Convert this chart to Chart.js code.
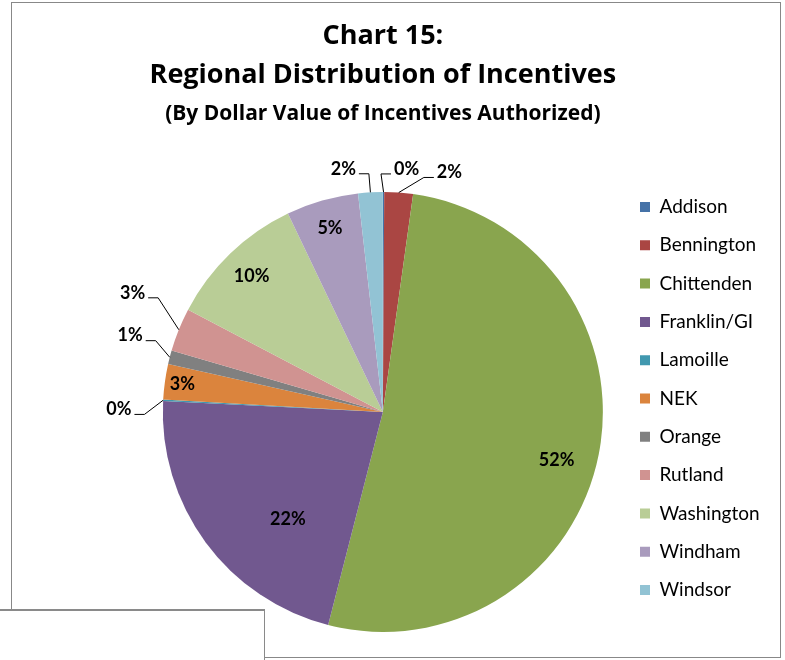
<!DOCTYPE html>
<html>
<head>
<meta charset="utf-8">
<script src="https://cdn.jsdelivr.net/npm/chart.js@4.4.0/dist/chart.umd.min.js"></script>
<style>
  html, body { margin: 0; padding: 0; background: #fff; }
  body { width: 785px; height: 660px; position: relative; overflow: hidden; }
  .frame { position: absolute; left: 11px; top: 2px; width: 770px; height: 656px; box-sizing: border-box; border: 1px solid #888; }
  #chart { position: absolute; left: 12px; top: 3px; }
  .cover { position: absolute; left: 0; top: 609px; width: 265px; height: 51px; box-sizing: border-box;
           background: #fff; border-top: 2px solid #8a8a8a; border-right: 1px solid #8a8a8a; }
</style>
</head>
<body>
<div class="frame"></div>
<canvas id="chart" width="767" height="653"></canvas>
<div class="cover"></div>
<script>
// data (share of dollar value, %)
const regions = ['Addison', 'Bennington', 'Chittenden', 'Franklin/GI', 'Lamoille', 'NEK',
                 'Orange', 'Rutland', 'Washington', 'Windham', 'Windsor'];
const shares = [0.1, 2.1, 51.8, 21.8, 0.1, 2.6, 1.0, 3.2, 10.2, 5.3, 1.8];
const sliceColors = ['#4572A7', '#AA4643', '#89A54E', '#71588F', '#4198AF', '#DB843D',
                     '#808080', '#D09391', '#B9CD96', '#A99BBD', '#92C3D4'];

// where each percentage sits: distance in radii, turn in degrees off the slice middle
const labelSpots = [
    { dist: 1.11, turn: 5.4 },
    { dist: 1.13, turn: 11.4 },
    { dist: 0.82, turn: 4.5 },
    { dist: 0.65, turn: -12 },
    { dist: 1.2, turn: -2.5 },
    { dist: 0.92, turn: 0 },
    { dist: 1.2, turn: 2.4 },
    { dist: 1.26, turn: 3.5 },
    { dist: 0.86, turn: 0 },
    { dist: 0.87, turn: 0 },
    { dist: 1.12, turn: -6 }
];

// percentage labels, with leader lines for the ones outside the pie //
const sliceLabels = {
    id: 'sliceLabels',
    afterDatasetsDraw(chart) {
        const ctx = chart.ctx;
        const meta = chart.getDatasetMeta(0);
        const total = shares.reduce((a, b) => a + b, 0);
        ctx.save();
        ctx.font = 'bold 18px Lato';
        ctx.fillStyle = '#000';
        ctx.strokeStyle = '#000';
        ctx.lineWidth = 1;
        ctx.textAlign = 'center';
        ctx.textBaseline = 'middle';
        meta.data.forEach((arc, i) => {
            const spot = labelSpots[i];
            const mid = (arc.startAngle + arc.endAngle) / 2;
            const a = mid + spot.turn * Math.PI / 180;
            const r = arc.outerRadius;
            const tx = arc.x + Math.cos(a) * r * spot.dist;
            const ty = arc.y + Math.sin(a) * r * spot.dist;
            const text = Math.round(shares[i] / total * 100) + '%';
            if (spot.dist > 1) {
                const w = ctx.measureText(text).width;
                const side = Math.cos(a) < 0 ? 1 : -1;
                const x1 = tx + side * (w / 2 + 3);
                const x2 = x1 + side * 10;
                const ly = ty + 5;
                ctx.beginPath();
                ctx.moveTo(x1, ly);
                ctx.lineTo(x2, ly);
                ctx.lineTo(arc.x + Math.cos(mid) * r, arc.y + Math.sin(mid) * r);
                ctx.stroke();
            }
            ctx.fillText(text, tx, ty);
        });
        ctx.restore();
    }
};

const chart = document.querySelector('#chart').getContext('2d');

new Chart(chart, {
    type: 'pie',
    data: {
        labels: regions,
        datasets: [
            {
                data: shares,
                backgroundColor: sliceColors,
                borderWidth: 0
            }
        ]
    },
    options: {
        responsive: false,
        animation: false,
        events: [],
        layout: {
            padding: { left: 133, right: 16.3, top: 0, bottom: 24 }
        },
        plugins: {
            title: {
                display: true,
                fullSize: false,
                text: ['Chart 15:', 'Regional Distribution of Incentives'],
                color: '#000',
                font: { family: 'Open Sans', size: 27, weight: 'bold', lineHeight: 1.444 },
                padding: { top: 14, bottom: 2 }
            },
            subtitle: {
                display: true,
                fullSize: false,
                text: '(By Dollar Value of Incentives Authorized)',
                color: '#000',
                font: { family: 'Open Sans', size: 21, weight: 'bold', lineHeight: 1.143 },
                padding: { top: 5, bottom: 66 }
            },
            legend: {
                position: 'right',
                align: 'start',
                maxWidth: 142,
                title: {
                    display: true,
                    text: '',
                    font: { size: 12 },
                    padding: { top: 160.8, bottom: 0 }
                },
                labels: {
                    boxWidth: 10,
                    boxHeight: 10,
                    padding: 19.3,
                    color: '#000',
                    font: { family: 'Lato', size: 19 }
                }
            },
            tooltip: { enabled: false }
        }
    },
    plugins: [sliceLabels]
});
</script>
</body>
</html>
